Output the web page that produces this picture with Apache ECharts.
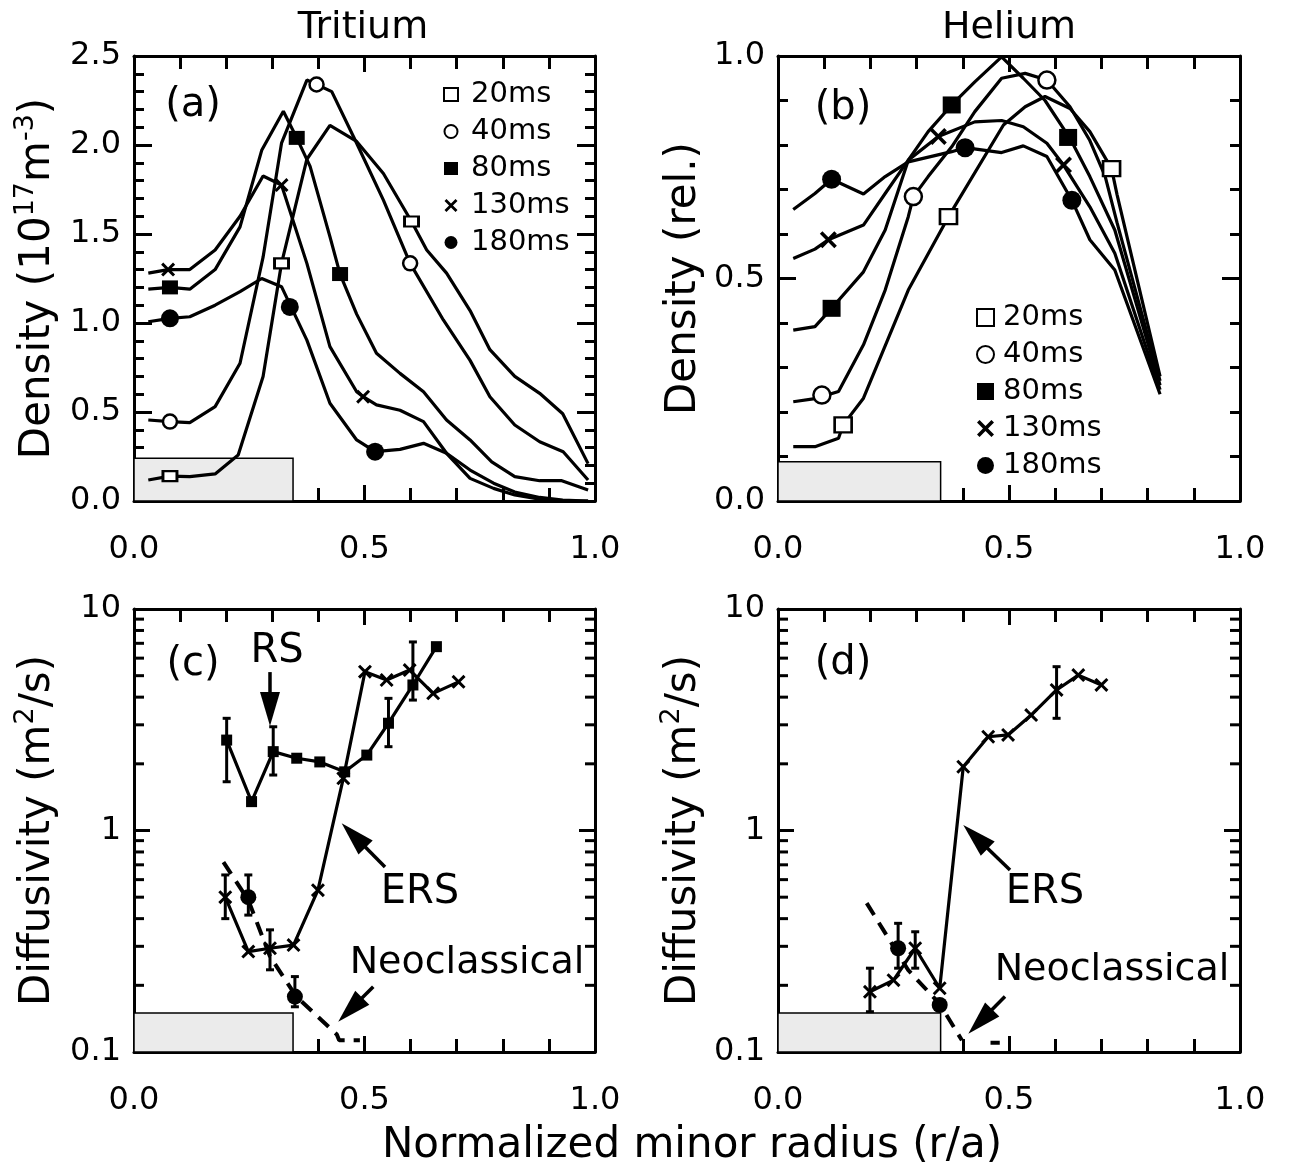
<!DOCTYPE html>
<html>
<head>
<meta charset="utf-8">
<script src="https://cdn.jsdelivr.net/npm/echarts@6.0.0/dist/echarts.min.js"></script>
<style>html,body{margin:0;padding:0;background:#fff}#chart{width:1291px;height:1174px}</style>
</head>
<body>
<div id="chart"></div>
<script>
var FONT = 'DejaVu Sans';
var times = ['20ms', '40ms', '80ms', '130ms', '180ms'];

// (a) tritium density profiles [r/a, 1e17 m^-3]
var tri20 = [[0.031,0.118],[0.078,0.14],[0.121,0.137],[0.176,0.152],[0.226,0.258],[0.28,0.70],[0.32,1.335],[0.375,1.92],[0.425,2.11],[0.483,2.02],[0.541,1.84],[0.602,1.57],[0.635,1.41],[0.678,1.28],[0.729,1.07],[0.772,0.85],[0.826,0.70],[0.88,0.605],[0.93,0.49],[0.985,0.21]];
var tri40 = [[0.031,0.455],[0.078,0.446],[0.121,0.44],[0.176,0.53],[0.23,0.774],[0.28,1.37],[0.32,2.01],[0.375,2.365],[0.396,2.34],[0.429,2.30],[0.483,2.01],[0.541,1.69],[0.599,1.335],[0.671,1.017],[0.729,0.79],[0.772,0.586],[0.826,0.427],[0.88,0.333],[0.931,0.277],[0.985,0.118]];
var tri80 = [[0.031,1.19],[0.078,1.20],[0.121,1.19],[0.176,1.30],[0.23,1.54],[0.277,1.97],[0.324,2.19],[0.353,2.04],[0.382,1.88],[0.425,1.485],[0.447,1.275],[0.483,1.05],[0.526,0.83],[0.577,0.717],[0.628,0.614],[0.678,0.455],[0.729,0.343],[0.776,0.22],[0.826,0.137],[0.88,0.114],[0.928,0.114],[0.985,0.062]];
var tri130 = [[0.031,1.28],[0.074,1.30],[0.121,1.30],[0.176,1.41],[0.23,1.60],[0.28,1.826],[0.32,1.775],[0.375,1.335],[0.425,0.867],[0.483,0.614],[0.497,0.586],[0.526,0.54],[0.577,0.51],[0.628,0.446],[0.678,0.268],[0.729,0.127],[0.78,0.071],[0.826,0.034],[0.88,0.01],[0.93,0.0],[0.985,0.0]];
var tri180 = [[0.031,1.007],[0.078,1.026],[0.121,1.035],[0.176,1.10],[0.23,1.176],[0.277,1.25],[0.32,1.204],[0.375,0.904],[0.425,0.549],[0.483,0.343],[0.523,0.277],[0.577,0.29],[0.628,0.324],[0.678,0.268],[0.729,0.174],[0.78,0.10],[0.826,0.05],[0.88,0.02],[0.93,0.005],[0.985,0.0]];
// symbols drawn on the (a) curves
var triMk20 = [[0.078,0.14],[0.32,1.335],[0.602,1.57]];
var triMk40 = [[0.078,0.446],[0.396,2.34],[0.599,1.335]];
var triMk80 = [[0.078,1.20],[0.353,2.04],[0.447,1.275]];
var triMk130 = [[0.074,1.30],[0.32,1.775],[0.497,0.586]];
var triMk180 = [[0.078,1.026],[0.338,1.09],[0.523,0.277]];

// (b) helium density profiles, relative
var he20 = [[0.033,0.122],[0.08,0.122],[0.131,0.141],[0.141,0.171],[0.185,0.231],[0.282,0.474],[0.369,0.639],[0.488,0.845],[0.535,0.886],[0.578,0.909],[0.632,0.882],[0.675,0.83],[0.722,0.747],[0.734,0.688],[0.827,0.28]];
var he40 = [[0.033,0.223],[0.08,0.23],[0.131,0.246],[0.185,0.351],[0.232,0.474],[0.282,0.639],[0.293,0.684],[0.325,0.729],[0.376,0.796],[0.426,0.875],[0.484,0.95],[0.535,0.961],[0.582,0.946],[0.632,0.886],[0.675,0.81],[0.708,0.73],[0.734,0.625],[0.827,0.27]];
var he80 = [[0.033,0.384],[0.08,0.392],[0.116,0.433],[0.185,0.515],[0.232,0.609],[0.282,0.766],[0.325,0.83],[0.376,0.89],[0.426,0.942],[0.484,0.998],[0.531,0.95],[0.578,0.90],[0.632,0.815],[0.675,0.729],[0.729,0.609],[0.827,0.26]];
var he130 = [[0.033,0.545],[0.08,0.566],[0.109,0.587],[0.185,0.62],[0.232,0.691],[0.282,0.766],[0.347,0.819],[0.426,0.852],[0.484,0.855],[0.531,0.841],[0.582,0.804],[0.618,0.755],[0.675,0.661],[0.729,0.557],[0.827,0.25]];
var he180 = [[0.033,0.655],[0.08,0.691],[0.116,0.723],[0.185,0.69],[0.232,0.729],[0.282,0.762],[0.376,0.785],[0.405,0.794],[0.484,0.783],[0.531,0.798],[0.582,0.774],[0.636,0.676],[0.675,0.587],[0.729,0.519],[0.827,0.24]];
var heMk20 = [[0.141,0.171],[0.369,0.639],[0.722,0.747]];
var heMk40 = [[0.095,0.238],[0.293,0.684],[0.582,0.946]];
var heMk80 = [[0.116,0.433],[0.376,0.89],[0.628,0.817]];
var heMk130 = [[0.109,0.587],[0.347,0.819],[0.618,0.755]];
var heMk180 = [[0.116,0.723],[0.405,0.794],[0.636,0.676]];

// (c) tritium diffusivity [r/a, m^2/s]
var triRS = [[0.201,2.56],[0.255,1.35],[0.302,2.27],[0.353,2.12],[0.403,2.04],[0.457,1.84],[0.505,2.19],[0.552,3.05],[0.605,4.54],[0.656,6.76]];
var triERS = [[0.198,0.50],[0.248,0.284],[0.295,0.294],[0.346,0.304],[0.399,0.538],[0.454,1.72],[0.501,5.21],[0.548,4.78],[0.598,5.3],[0.649,4.16],[0.704,4.69]];
var triDot = [[0.248,0.50],[0.349,0.178]];
var triNeo = [[0.194,0.72],[0.248,0.485],[0.295,0.27],[0.352,0.178],[0.44,0.12],[0.445,0.113],[0.49,0.113]];
var triErr = [[0.201,1.66,3.21],[0.302,1.78,2.94],[0.552,2.39,3.95],[0.605,3.88,7.1],[0.198,0.40,0.63],[0.295,0.235,0.356],[0.248,0.415,0.63],[0.349,0.16,0.219]];

// (d) helium diffusivity
var heERS = [[0.199,0.187],[0.25,0.211],[0.297,0.294],[0.35,0.194],[0.401,1.94],[0.455,2.65],[0.498,2.70],[0.548,3.32],[0.603,4.31],[0.65,5.03],[0.70,4.54]];
var heDot = [[0.26,0.294],[0.35,0.163]];
var heNeo = [[0.192,0.47],[0.282,0.234],[0.35,0.165],[0.398,0.113],[0.43,'-'],[0.46,0.11],[0.48,0.11]];
var heErr = [[0.199,0.152,0.239],[0.297,0.239,0.349],[0.603,3.21,5.49],[0.26,0.239,0.381]];

// minor tick values on the log axes
var logMinor = [0.2,0.3,0.4,0.5,0.6,0.7,0.8,0.9,2,3,4,5,6,7,8,9];

// annotation arrows: [r start, D start, r tip, D tip]
var arrowsC = [[0.295,5.19,0.295,2.96],[0.5445,0.684,0.4505,1.078],[0.519,0.197,0.443,0.137]];
var arrowsD = [[0.5022,0.663,0.401,1.059],[0.4913,0.178,0.412,0.121]];

var SYM_X = 'path://M0,3L3,0L10,7L17,0L20,3L13,10L20,17L17,20L10,13L3,20L0,17L7,10Z';
var markStyle = [
  {symbol: 'rect', itemStyle: {color: '#fff', borderColor: '#000', borderWidth: 2.5, opacity: 1}},
  {symbol: 'circle', itemStyle: {color: '#fff', borderColor: '#000', borderWidth: 2.5, opacity: 1}},
  {symbol: 'rect', itemStyle: {color: '#000', opacity: 1}},
  {symbol: SYM_X, itemStyle: {color: '#000', opacity: 1}},
  {symbol: 'circle', itemStyle: {color: '#000', opacity: 1}}
];
var sizeA = [[14,10], 14, [16,14], 14, 18];
var sizeB = [[17,15], 17, [18,17], 17, 19];

var chart = echarts.init(document.getElementById('chart'));
var black = {color: '#000', width: 3};
var tickLine = {color: '#000', width: 3};

function xAx(g, pos) {
  return {gridIndex: g, type: 'value', position: pos, min: 0, max: 1, interval: 0.5,
    axisLine: {show: true, onZero: false, lineStyle: black},
    axisTick: {show: true, inside: true, length: 16, lineStyle: tickLine},
    minorTick: {show: true, splitNumber: 5, length: 13, lineStyle: tickLine},
    splitLine: {show: false}, minorSplitLine: {show: false},
    axisLabel: {show: pos === 'bottom', margin: 33, fontSize: 32, fontFamily: FONT, color: '#000',
      formatter: function (v) { return v.toFixed(1); }}};
}
var nameStyle = {fontSize: 42, fontFamily: FONT, color: '#000', lineHeight: 52,
  rich: {sup: {fontSize: 27, lineHeight: 26, verticalAlign: 'top', fontFamily: FONT, color: '#000'}}};
function yLin(g, pos, max, name, gap) {
  return {gridIndex: g, type: 'value', position: pos, min: 0, max: max, interval: 0.5,
    axisLine: {show: true, onZero: false, lineStyle: black},
    axisTick: {show: true, inside: true, length: 18, lineStyle: tickLine},
    minorTick: {show: true, splitNumber: 5, length: 10, lineStyle: tickLine},
    splitLine: {show: false}, minorSplitLine: {show: false},
    axisLabel: {show: pos === 'left', margin: 13, fontSize: 32, fontFamily: FONT, color: '#000',
      formatter: function (v) { return v.toFixed(1); }},
    name: pos === 'left' ? name : '', nameLocation: 'middle', nameGap: gap, nameRotate: 90, nameTextStyle: nameStyle};
}
function yLog(g, pos, name, gap) {
  return {gridIndex: g, type: 'log', logBase: 10, position: pos, min: 0.1, max: 10,
    axisLine: {show: true, onZero: false, lineStyle: black},
    axisTick: {show: true, inside: true, length: 16, lineStyle: tickLine},
    splitLine: {show: false},
    axisLabel: {show: pos === 'left', margin: 13, fontSize: 32, fontFamily: FONT, color: '#000',
      formatter: function (v) { return v < 1 ? '0.1' : String(Math.round(v)); }},
    name: pos === 'left' ? name : '', nameLocation: 'middle', nameGap: gap, nameRotate: 90, nameTextStyle: nameStyle};
}

function line(xi, yi, data, extra) {
  return Object.assign({type: 'line', xAxisIndex: xi, yAxisIndex: yi, data: data, symbol: 'none',
    lineStyle: {color: '#000', width: 3.2}, silent: true, z: 2}, extra || {});
}
function marks(name, xi, yi, data, st, size) {
  return {type: 'scatter', name: name, xAxisIndex: xi, yAxisIndex: yi, data: data,
    symbol: st.symbol, symbolSize: size, itemStyle: st.itemStyle, silent: true, z: 4};
}
function shade(p1, p2) {
  return {silent: true, itemStyle: {color: '#ebebeb', borderColor: '#000', borderWidth: 1.5},
    data: [[{coord: p1}, {coord: p2}]]};
}
// log-axis minor ticks: thin bars at the tick values on the left and right frame edges
function tickBar(xi, yi, pts, size, offset) {
  return {type: 'scatter', xAxisIndex: xi, yAxisIndex: yi, data: pts, symbol: 'rect',
    symbolSize: size, symbolOffset: offset, clip: false, z: 5,
    itemStyle: {color: '#000', opacity: 1}};
}
function logTicks(xi, yi) {
  return [
    tickBar(xi, yi, logMinor.map(function (v) { return [0, v]; }), [10, 3], [5, 0]),
    tickBar(xi, yi, logMinor.map(function (v) { return [1, v]; }), [10, 3], [-5, 0])
  ];
}
function errBars(xi, yi, data) {
  return {type: 'custom', xAxisIndex: xi, yAxisIndex: yi, data: data, silent: true, z: 3,
    encode: {x: 0, y: [1, 2]},
    renderItem: function (params, api) {
      var x = api.value(0);
      var a = api.coord([x, api.value(1)]), b = api.coord([x, api.value(2)]);
      var st = {stroke: '#000', lineWidth: 3};
      return {type: 'group', children: [
        {type: 'line', shape: {x1: a[0], y1: a[1], x2: b[0], y2: b[1]}, style: st},
        {type: 'line', shape: {x1: a[0] - 4, y1: a[1], x2: a[0] + 4, y2: a[1]}, style: st},
        {type: 'line', shape: {x1: b[0] - 4, y1: b[1], x2: b[0] + 4, y2: b[1]}, style: st}
      ]};
    }};
}
function arrowSeries(xi, yi, data) {
  return {type: 'custom', xAxisIndex: xi, yAxisIndex: yi, data: data, silent: true, z: 6, clip: false,
    encode: {x: [0, 2], y: [1, 3]},
    renderItem: function (params, api) {
      var a = api.coord([api.value(0), api.value(1)]), b = api.coord([api.value(2), api.value(3)]);
      var dx = b[0] - a[0], dy = b[1] - a[1], n = Math.sqrt(dx * dx + dy * dy);
      var ux = dx / n, uy = dy / n, L = 34, W = 10;
      var bx = b[0] - ux * L, by = b[1] - uy * L;
      return {type: 'group', children: [
        {type: 'line', shape: {x1: a[0], y1: a[1], x2: bx + ux * 4, y2: by + uy * 4}, style: {stroke: '#000', lineWidth: 3.5}},
        {type: 'polygon', shape: {points: [[b[0], b[1]], [bx - uy * W, by + ux * W], [bx + uy * W, by - ux * W]]}, style: {fill: '#000'}}
      ]};
    }};
}

var series = [];
var triLines = [tri20, tri40, tri80, tri130, tri180];
var triMarks = [triMk20, triMk40, triMk80, triMk130, triMk180];
var heLines = [he20, he40, he80, he130, he180];
var heMarks = [heMk20, heMk40, heMk80, heMk130, heMk180];

// (a)
triLines.forEach(function (d, i) { series.push(line(0, 0, d, i === 0 ? {markArea: shade([0, 0], [0.345, 0.24])} : null)); });
triMarks.forEach(function (d, i) { series.push(marks(times[i], 0, 0, d, markStyle[i], sizeA[i])); });
// (b)
heLines.forEach(function (d, i) { series.push(line(2, 2, d, i === 0 ? {markArea: shade([0, 0], [0.352, 0.088])} : null)); });
heMarks.forEach(function (d, i) { series.push(marks(times[i], 2, 2, d, markStyle[i], sizeB[i])); });
// (c)
series.push(line(4, 4, triRS, {markArea: shade([0, 0.1], [0.345, 0.15])}));
series.push(line(4, 4, triERS));
series.push(line(4, 4, triNeo, {lineStyle: {color: '#000', width: 4, type: [14, 9]}}));
series.push(errBars(4, 4, triErr));
series.push(marks('', 4, 4, triRS, markStyle[2], 11));
series.push(marks('', 4, 4, triERS, markStyle[3], 14));
series.push(marks('', 4, 4, triDot, markStyle[4], 16));
series.push(arrowSeries(4, 4, arrowsC));
series = series.concat(logTicks(4, 4));
// (d)
series.push(line(6, 6, heERS, {markArea: shade([0, 0.1], [0.352, 0.15])}));
series.push(line(6, 6, heNeo, {lineStyle: {color: '#000', width: 4, type: [14, 9]}}));
series.push(errBars(6, 6, heErr));
series.push(marks('', 6, 6, heERS, markStyle[3], 14));
series.push(marks('', 6, 6, heDot, markStyle[4], 16));
series.push(arrowSeries(6, 6, arrowsD));
series = series.concat(logTicks(6, 6));

function txt(s, x, y, size) {
  return {type: 'text', x: x, y: y, silent: true, z: 10,
    style: {text: s, fontSize: size, fontFamily: FONT, fill: '#000', align: 'center', verticalAlign: 'middle'}};
}

var option = {
  animation: false,
  backgroundColor: '#fff',
  grid: [
    {left: 134, top: 56, width: 461, height: 445},
    {left: 778, top: 56, width: 462, height: 445},
    {left: 134, top: 609, width: 461, height: 443},
    {left: 778, top: 609, width: 462, height: 443}
  ],
  xAxis: [xAx(0, 'bottom'), xAx(0, 'top'), xAx(1, 'bottom'), xAx(1, 'top'),
          xAx(2, 'bottom'), xAx(2, 'top'), xAx(3, 'bottom'), xAx(3, 'top')],
  yAxis: [
    yLin(0, 'left', 2.5, 'Density (10{sup|17}m{sup|-3})', 70), yLin(0, 'right', 2.5),
    yLin(1, 'left', 1, 'Density (rel.)', 66), yLin(1, 'right', 1),
    yLog(2, 'left', 'Diffusivity (m{sup|2}/s)', 70), yLog(2, 'right'),
    yLog(3, 'left', 'Diffusivity (m{sup|2}/s)', 64), yLog(3, 'right')
  ],
  legend: [
    {data: times, orient: 'vertical', left: 438, top: 75, itemWidth: 14, itemHeight: 13, itemGap: 8,
     selectedMode: false, textStyle: {fontSize: 29, fontFamily: FONT, color: '#000', padding: [0, 0, 0, 8]}},
    {data: times, orient: 'vertical', left: 971, top: 298, itemWidth: 17, itemHeight: 17, itemGap: 8,
     selectedMode: false, textStyle: {fontSize: 29, fontFamily: FONT, color: '#000', padding: [0, 0, 0, 4]}}
  ],
  graphic: [
    txt('Tritium', 363, 28, 38), txt('Helium', 1009, 28, 38),
    txt('Normalized minor radius (r/a)', 692, 1146, 42),
    txt('(a)', 193, 106, 40), txt('(b)', 843, 109, 40), txt('(c)', 193, 665, 40), txt('(d)', 843, 664, 40),
    txt('RS', 277, 652, 40), txt('ERS', 420, 893, 40), txt('Neoclassical', 467, 963, 38),
    txt('ERS', 1045, 893, 40), txt('Neoclassical', 1112, 970, 38)
  ],
  series: series
};
chart.setOption(option);
</script>
</body>
</html>
